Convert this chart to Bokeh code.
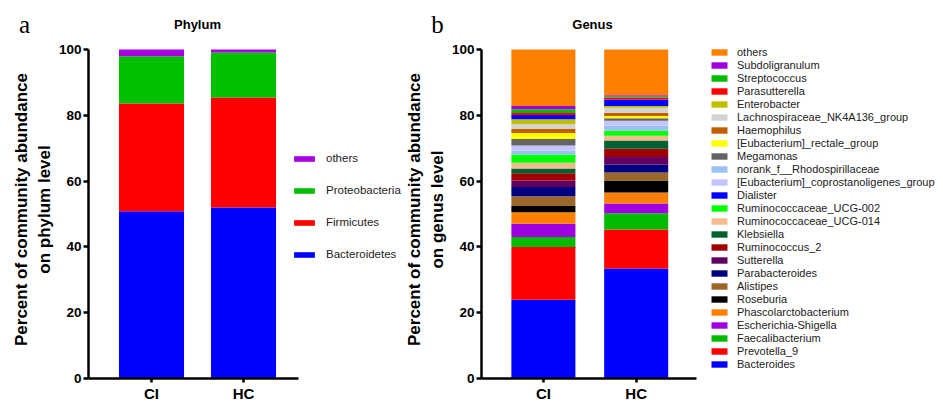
from bokeh.plotting import figure
from bokeh.models import ColumnDataSource, Range1d, FixedTicker, Legend, LegendItem, Label
from bokeh.layouts import row, column
from bokeh.embed import file_html
from bokeh.resources import INLINE

# ---------------- data ----------------
groups = ["CI", "HC"]
group_x = [1, 2]
y_ticks = [0, 20, 40, 60, 80, 100]

# Phylum (stack order bottom -> top)
phylum_names = ["Bacteroidetes", "Firmicutes", "Proteobacteria", "others"]
phylum_ci = [50.8, 32.8, 14.3, 2.1]
phylum_hc = [52.0, 33.4, 13.7, 0.9]
phylum_colors = ["#0000FF", "#FF0000", "#00BF00", "#A800E0"]
phylum_legend_order = ["others", "Proteobacteria", "Firmicutes", "Bacteroidetes"]

# Genus (stack order bottom -> top, as drawn)
genus_names = [
    "Bacteroides", "Prevotella_9", "Faecalibacterium", "Escherichia-Shigella",
    "Phascolarctobacterium", "Roseburia", "Alistipes", "Parabacteroides",
    "Sutterella", "Ruminococcus_2", "Klebsiella", "Ruminococcaceae_UCG-014",
    "Ruminococcaceae_UCG-002", "norank_f__Rhodospirillaceae",
    "[Eubacterium]_coprostanoligenes_group", "Megamonas",
    "[Eubacterium]_rectale_group", "Haemophilus", "Lachnospiraceae_NK4A136_group",
    "Enterobacter", "Dialister", "Parasutterella", "Streptococcus",
    "Subdoligranulum", "others",
]
genus_ci = [23.9, 16.1, 3.0, 4.0, 3.5, 1.9, 3.0, 2.8, 2.0, 2.2, 1.4, 1.8, 2.5,
            1.2, 1.5, 2.0, 1.8, 1.2, 1.5, 1.5, 1.3, 0.6, 1.1, 1.0, 17.2]
genus_hc = [33.4, 11.9, 4.9, 3.0, 3.3, 3.7, 2.4, 2.4, 2.3, 2.5, 2.5, 1.5, 1.5,
            1.5, 1.5, 0.8, 0.7, 1.0, 1.5, 0.5, 2.0, 0.6, 0.4, 0.3, 13.9]
genus_colors = [
    "#0000FF", "#FF0000", "#00BB00", "#A000E0",
    "#FF8000", "#000000", "#9C6628", "#000080",
    "#600060", "#A00000", "#006030", "#F4BC8C",
    "#00FF00", "#99C2F2",
    "#C4C4FF", "#646464",
    "#FFFF00", "#C06000", "#D3D3D3",
    "#BFBF00", "#0000FF", "#FF0000", "#00BB00",
    "#A000E0", "#FF8000",
]
genus_legend_order = [
    "others", "Subdoligranulum", "Streptococcus", "Parasutterella", "Enterobacter",
    "Lachnospiraceae_NK4A136_group", "Haemophilus", "[Eubacterium]_rectale_group",
    "Megamonas", "norank_f__Rhodospirillaceae", "[Eubacterium]_coprostanoligenes_group",
    "Dialister", "Ruminococcaceae_UCG-002", "Ruminococcaceae_UCG-014", "Klebsiella",
    "Ruminococcus_2", "Sutterella", "Parabacteroides", "Alistipes", "Roseburia",
    "Phascolarctobacterium", "Escherichia-Shigella", "Faecalibacterium",
    "Prevotella_9", "Bacteroides",
]

FONT = "Liberation Sans"
Y_TOP = 102.72
TOTAL_W = 941
STRIP_H = 40
PANEL_H = 364


def style_axes(p, ylabel, x_bounds):
    for ax in (p.xaxis[0], p.yaxis[0]):
        ax.axis_line_width = 2.5
        ax.axis_line_color = "black"
        ax.major_tick_line_width = 2.5
        ax.major_tick_line_color = "black"
        ax.major_tick_in = 0
        ax.minor_tick_line_color = None
        ax.major_label_text_font = FONT
        ax.major_label_text_font_style = "bold"
        ax.major_label_text_color = "black"
    p.yaxis.ticker = FixedTicker(ticks=y_ticks)
    p.yaxis.bounds = (0, 100)
    p.yaxis.major_tick_out = 5
    p.yaxis.major_label_text_font_size = "13.5px"
    p.yaxis.major_label_standoff = 2
    p.yaxis.axis_label = ylabel
    p.yaxis.axis_label_text_font = FONT
    p.yaxis.axis_label_text_font_style = "bold"
    p.yaxis.axis_label_text_font_size = "17px"
    p.yaxis.axis_label_text_color = "black"
    p.yaxis.axis_label_standoff = 2
    p.xaxis.ticker = FixedTicker(ticks=group_x)
    p.xaxis.bounds = x_bounds
    p.xaxis.major_label_overrides = {gx: g for gx, g in zip(group_x, groups)}
    p.xaxis.major_tick_out = 4
    p.xaxis.major_label_standoff = 2
    p.xaxis.major_label_text_font_size = "15px"
    p.xgrid.visible = False
    p.ygrid.visible = False
    p.outline_line_color = None


def make_panel(names, ci_vals, hc_vals, colors, legend_order, x_start, x_end,
               x_bounds, bar_w, width, border_left, ylabel,
               glyph_w, glyph_h, label_h, spacing, label_size, standoff, leg_loc):
    data = {"x": group_x}
    for n, a, b in zip(names, ci_vals, hc_vals):
        data[n] = [a, b]
    src = ColumnDataSource(data)
    p = figure(width=width, height=PANEL_H,
               x_range=Range1d(x_start, x_end), y_range=Range1d(0, Y_TOP),
               output_backend="svg", toolbar_location=None,
               min_border_left=border_left, min_border_top=0, min_border_bottom=24,
               min_border_right=0, background_fill_color="white",
               border_fill_color="white")
    rends = p.vbar_stack(names, x="x", width=bar_w, source=src,
                         color=colors, line_color=None)
    lookup = dict(zip(names, rends))
    items = [LegendItem(label=n, renderers=[lookup[n]]) for n in legend_order]
    leg = Legend(items=items, location=leg_loc, orientation="vertical",
                 glyph_width=glyph_w, glyph_height=glyph_h, label_height=label_h,
                 label_standoff=standoff, spacing=spacing, padding=0, margin=0,
                 border_line_color=None, background_fill_alpha=0,
                 label_text_font=FONT, label_text_font_size=label_size,
                 label_text_color="#222222")
    p.add_layout(leg)
    style_axes(p, ylabel, x_bounds)
    return p


# ---- header strip with panel letters and titles ----
strip = figure(width=TOTAL_W, height=STRIP_H, x_range=Range1d(0, 1),
               y_range=Range1d(0, 1), output_backend="svg", toolbar_location=None,
               min_border=0, x_axis_location=None, y_axis_location=None,
               background_fill_color="white", border_fill_color="white")
strip.xgrid.visible = False
strip.ygrid.visible = False
strip.outline_line_color = None
header = [("a", 24, 16, "Liberation Serif", "25px", "normal"),
          ("b", 437, 16, "Liberation Serif", "25px", "normal"),
          ("Phylum", 197, 16.5, FONT, "13px", "bold"),
          ("Genus", 592, 16.5, FONT, "13px", "bold")]
for txt, sx, sy, fnt, fsz, fst in header:
    strip.add_layout(Label(x=sx, y=sy, x_units="screen", y_units="screen",
                           text=txt, text_font=fnt, text_font_size=fsz,
                           text_font_style=fst, text_align="center",
                           text_baseline="middle", text_color="black"))

W1 = 402
p1 = make_panel(phylum_names, phylum_ci, phylum_hc, phylum_colors,
                phylum_legend_order, 0.315, 0.315 + (W1 - 88) / 92.0,
                (0.315, 2.598), 0.707, W1, 88,
                "Percent of community abundance\non phylum level",
                26, 7, 20, 12, "11.5px", 9, (203, 114))

W2 = TOTAL_W - W1
p2 = make_panel(genus_names, genus_ci, genus_hc, genus_colors,
                genus_legend_order, 0.333, 0.333 + (W2 - 78) / 93.0,
                (0.333, 2.645), 0.69, W2, 78,
                "Percent of community abundance\non genus level",
                20, 8, 13, 0, "11px", 8, (228, 8))

layout = column(strip, row(p1, p2))
open("out.html", "w").write(file_html(layout, INLINE))
